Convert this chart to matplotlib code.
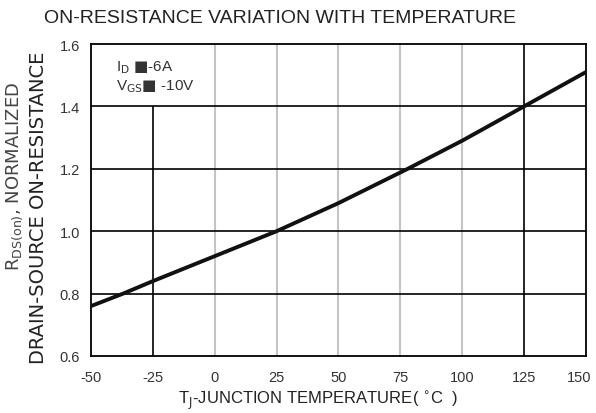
import matplotlib.pyplot as plt
from matplotlib.transforms import ScaledTranslation

plt.rcParams['font.family'] = ['Liberation Sans', 'DejaVu Sans']

# curve
temp = [-50, -37, -25, 0, 25, 50, 78, 100, 125, 150]
rdson = [0.76, 0.80, 0.84, 0.92, 1.00, 1.09, 1.20, 1.29, 1.40, 1.51]

x_ticks = [-50, -25, 0, 25, 50, 75, 100, 125, 150]
y_ticks = [0.6, 0.8, 1.0, 1.2, 1.4, 1.6]
y_tick_labels = ["0.6", "0.8", "1.0", "1.2", "1.4", "1.6"]
gray_lines = [0, 25, 50, 75, 100]
black_lines = [125]

fig = plt.figure(figsize=(5.96, 4.14), dpi=100)
ax = fig.add_axes([0.1527, 0.1377, 0.8303, 0.7536])

ax.set_xlim(-50, 150)
ax.set_ylim(0.6, 1.6)

for x in gray_lines:
    ax.axvline(x, color="#c4c4c4", lw=1.5, zorder=1)
for x in black_lines:
    ax.axvline(x, color="black", lw=1.2, zorder=1)
ax.vlines(-25, 0.6, 1.4, color="black", lw=1.2, zorder=1)
for y in y_ticks[1:-1]:
    ax.axhline(y, color="black", lw=1.2, zorder=1)

ax.plot(temp, rdson, color="#111111", lw=2.8, zorder=3)

for s in ax.spines.values():
    s.set_linewidth(1.3)

ax.set_xticks(x_ticks)
ax.set_xticklabels([str(v) for v in x_ticks], fontsize=10.5, color="#333333")
ax.set_yticks(y_ticks)
ax.set_yticklabels(y_tick_labels, fontsize=10.5, color="#333333")
ax.tick_params(axis="x", length=0, pad=10)
ax.tick_params(axis="y", length=0, pad=8)

# last x label sits a little left of its grid line, as in the reference
last = ax.xaxis.get_major_ticks()[-1].label1
last.set_transform(last.get_transform()
                   + ScaledTranslation(-5 / 72, 0, fig.dpi_scale_trans))

ax.text(-40, 1.526, r"I$_{\mathrm{D}}$ $\blacksquare$-6A", fontsize=11,
        color="#333333", va="center")
ax.text(-40, 1.465, r"V$_{\mathrm{GS}}$$\blacksquare$ -10V", fontsize=11,
        color="#333333", va="center")

fig.text(0.47, 0.955, "ON-RESISTANCE VARIATION WITH TEMPERATURE",
         fontsize=14, color="#222222", ha="center", va="center")
fig.text(0.534, 0.03, r"T$_{\mathrm{J}}$-JUNCTION TEMPERATURE( $^{\circ}$C  )",
         fontsize=12, color="#222222", ha="center", va="center")
fig.text(0.024, 0.575, r"R$_{\mathrm{DS(on)}}$, NORMALIZED", rotation=90,
         fontsize=13, color="#444444", ha="center", va="center",
         family="DejaVu Sans")
fig.text(0.064, 0.498, "DRAIN-SOURCE ON-RESISTANCE", rotation=90,
         fontsize=14, color="#222222", ha="center", va="center",
         family="DejaVu Sans")

fig.savefig("out.png", dpi=100)
